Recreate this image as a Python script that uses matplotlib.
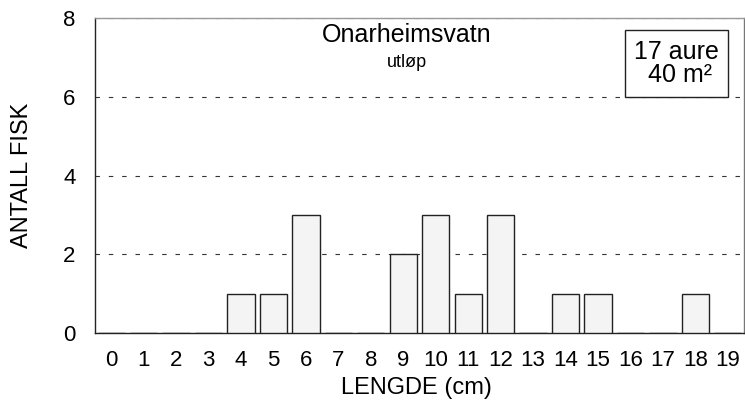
import matplotlib
matplotlib.use("Agg")
import matplotlib.pyplot as plt
from matplotlib.patches import Rectangle

plt.rcParams['font.family'] = ['Liberation Sans', 'DejaVu Sans']

lengths = list(range(20))
counts = [0, 0, 0, 0, 1, 1, 3, 0, 0, 2, 3, 1, 3, 0, 1, 1, 0, 0, 1, 0]
yticks = [0, 2, 4, 6, 8]

fig = plt.figure(figsize=(7.45, 4.17), dpi=100)
ax = fig.add_axes([95/745, 1 - 333/417, 649/745, 315/417])

ax.bar(lengths, counts, width=0.84, color='#f4f4f4', edgecolor='#222222', linewidth=1.0, zorder=3)

ax.set_xlim(-0.5, 19.5)
ax.set_ylim(0, 8)
ax.set_xticks(lengths)
ax.set_xticklabels([str(v) for v in lengths], fontsize=16)
ax.set_yticks(yticks)
ax.set_yticklabels([str(v) for v in yticks], fontsize=16)
ax.tick_params(axis='both', length=0)
ax.tick_params(axis='x', pad=12)
ax.tick_params(axis='y', pad=14)

for y in yticks[1:]:
    ax.axhline(y, color='#333333', linestyle=(0, (4, 8)), linewidth=0.8, zorder=1)

ax.spines['left'].set_color('#222222')
ax.spines['bottom'].set_color('#222222')
ax.spines['top'].set_color('#999999')
ax.spines['right'].set_color('#777777')
for s in ax.spines.values():
    s.set_linewidth(1.0)

ax.set_xlabel('LENGDE (cm)', fontsize=17)
ax.xaxis.set_label_coords(0.495, -0.14)
ax.set_ylabel('ANTALL FISK', fontsize=17)
ax.yaxis.set_label_coords(-0.096, 0.5)

ax.text(0.481, 0.947, 'Onarheimsvatn', transform=ax.transAxes, ha='center', va='center', fontsize=18)
ax.text(0.481, 0.858, 'utløp', transform=ax.transAxes, ha='center', va='center', fontsize=13)

ax.add_patch(Rectangle((0.8166, 0.749), 0.9753 - 0.8166, 0.962 - 0.749, transform=ax.transAxes,
                       facecolor='white', edgecolor='#222222', linewidth=1.0, zorder=5))
ax.text(0.896, 0.856, '17 aure\n 40 m\u00b2', transform=ax.transAxes, ha='center', va='center',
        fontsize=18, linespacing=0.95, zorder=6)

fig.savefig('out.png', dpi=100)
